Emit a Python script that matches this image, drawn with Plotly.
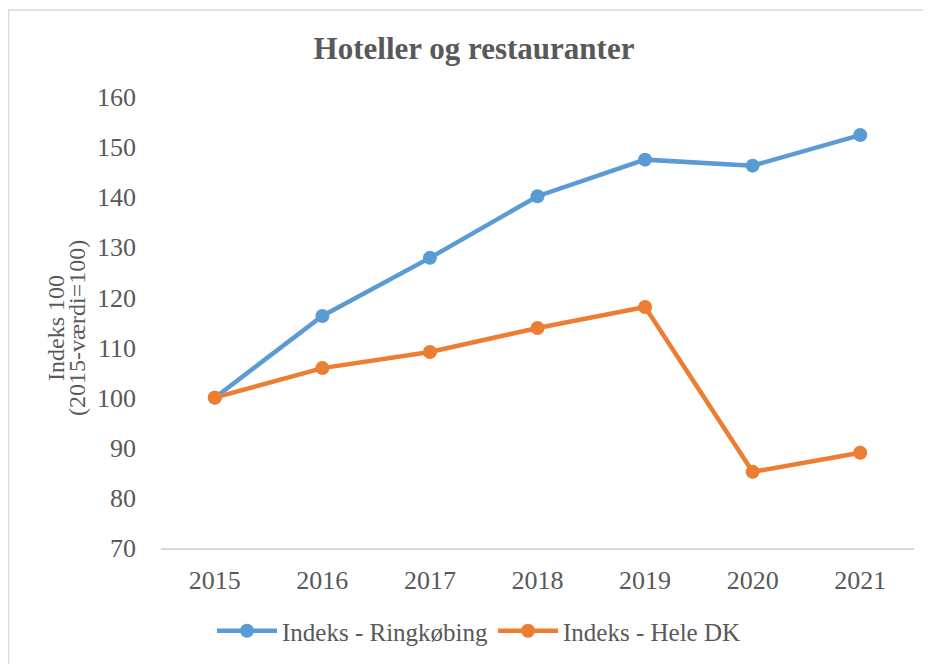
import plotly.graph_objects as go

years = ["2015", "2016", "2017", "2018", "2019", "2020", "2021"]
ringkobing = [100, 116.3, 127.9, 140.2, 147.5, 146.3, 152.4]
hele_dk = [100, 105.9, 109.1, 113.9, 118.1, 85.2, 89.0]

FONT = "'Liberation Serif', serif"
TXT = "#595959"

# page body has an 8px margin; coordinates below are relative to the figure origin
OX, OY = 8, 8
L, R, T, B = 161 - OX, 914 - OX, 97 - OY, 548 - OY
W, H = 931, 664
PW, PH = R - L, B - T

def px(x):
    return (x - OX - L) / PW

def py(y):
    return (B - (y - OY)) / PH

fig = go.Figure()
fig.add_trace(go.Scatter(x=years, y=ringkobing, mode="lines+markers", name="Indeks - Ringkøbing",
                         line=dict(color="#5B9BD5", width=4.5), marker=dict(size=14, color="#5B9BD5")))
fig.add_trace(go.Scatter(x=years, y=hele_dk, mode="lines+markers", name="Indeks - Hele DK",
                         line=dict(color="#ED7D31", width=4.5), marker=dict(size=14, color="#ED7D31")))

fig.update_layout(
    width=W, height=H,
    margin=dict(l=L, r=W - R, t=T, b=H - B),
    paper_bgcolor="white", plot_bgcolor="white",
    font=dict(family=FONT, color=TXT, size=25),
    title=dict(text="<b>Hoteller og restauranter</b>", x=(474 - OX) / W, xanchor="center",
               y=1 - (48 - OY) / H, yanchor="middle", font=dict(size=31, color=TXT, family=FONT)),
    xaxis=dict(type="category", range=[-0.5, 6.5], showgrid=False, showline=True, linecolor="#D9D9D9",
               linewidth=1.5, ticks="", ticklabelstandoff=8, tickfont=dict(size=26)),
    yaxis=dict(range=[70, 160], dtick=10, showgrid=False, zeroline=False, showline=False, ticks="",
               ticklabelstandoff=24, tickfont=dict(size=26)),
    legend=dict(orientation="h", x=px(479), xanchor="center", y=py(631), yanchor="middle",
                font=dict(size=25), itemwidth=60, traceorder="normal"),
    showlegend=True,
)

for txt, xc in [("Indeks 100", 56), ("(2015-værdi=100)", 77)]:
    fig.add_annotation(text=txt, textangle=-90, xref="paper", yref="paper",
                       x=px(xc), y=py(328), xanchor="center", yanchor="middle",
                       showarrow=False, font=dict(size=24, color=TXT, family=FONT))

fig.add_shape(type="rect", xref="paper", yref="paper", x0=px(8.5), x1=px(960),
              y0=py(700), y1=py(10), line=dict(color="#D9D9D9", width=1.5),
              fillcolor="rgba(0,0,0,0)", layer="below")

fig.write_html("out.html")
